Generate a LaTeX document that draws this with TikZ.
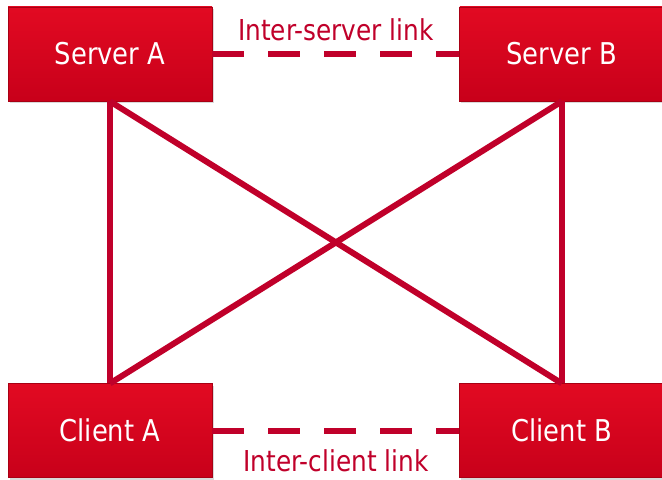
\documentclass[tikz,border=0pt]{standalone}
\usepackage{fontspec}
\setmainfont{DejaVu Sans}[FakeStretch=0.86]
\usetikzlibrary{positioning, shadows}
\definecolor{boxtop}{HTML}{E20A22}
\definecolor{boxbot}{HTML}{C8001A}
\definecolor{boxedge}{HTML}{A80014}
\definecolor{linkred}{HTML}{C0002A}

\begin{document}
\begin{tikzpicture}[x=0.5pt, y=-0.5pt,
box/.style   ={rectangle, draw=boxedge, line width=0.4pt, top color=boxtop, bottom color=boxbot, minimum width=102pt, minimum height=47pt, inner sep=0pt, text=white, font=\fontsize{15}{18}\selectfont, drop shadow={opacity=0.3, shadow xshift=0.8pt, shadow yshift=-1.2pt}},
line/.style  ={draw=linkred, line width=3pt},
dline/.style ={line, dash pattern=on 16pt off 12pt},
linklabel/.style={text=linkred, font=\fontsize{14.4}{17}\selectfont, inner sep=0pt},
]
\useasboundingbox (0,0) rectangle (662,480);

% Define the nodes
\node[box] at (110,54)               (sa)   {Server A};
\node[box, right=123.5pt of sa]      (sb)   {Server B};
\node[box, below=141pt of sa]        (ca)   {Client A};
\node[box, below=141pt of sb]        (cb)   {Client B};

% Connect the nodes
\path[line] (sa.south) -- (ca.north);
\path[line] (sb.south) -- (cb.north);
\path[line] (sa.south) -- (cb.north);
\path[line] (sb.south) -- (ca.north);
\path[dline] (sa) -- (sb) node[linklabel, midway, above=5pt] (isl) {Inter-server link};
\path[dline] (ca) -- (cb) node[linklabel, midway, below=8pt] (icl) {Inter-client link};

\end{tikzpicture}
\end{document}
